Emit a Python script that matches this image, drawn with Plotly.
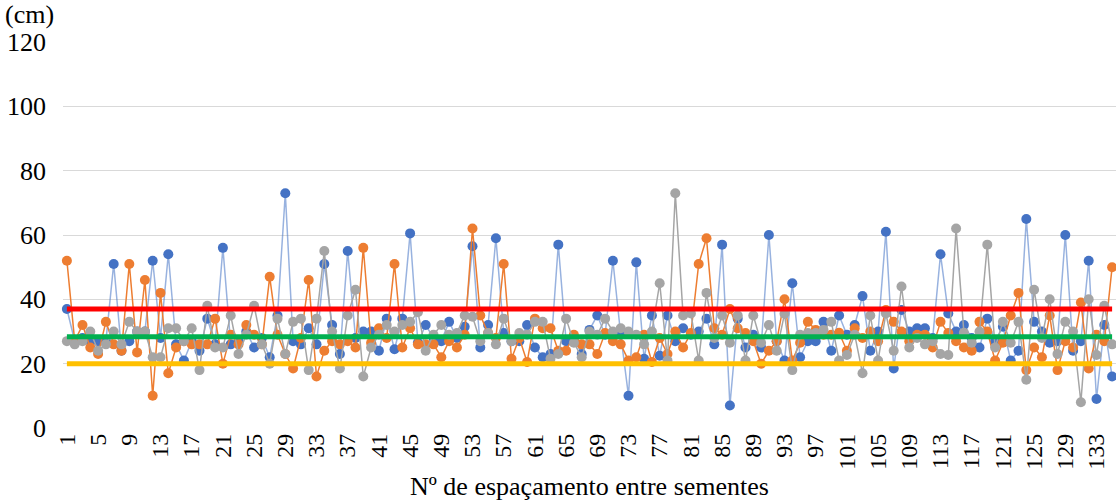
import plotly.graph_objects as go

# spacing index (1..135)
spacing = list(range(1, 136))

blue = [37, 27, 28, 27, 27, 27, 51, 24, 27, 30, 30, 52, 28, 54, 26, 21, 27, 24, 34, 26,
        56, 26, 27, 30, 25, 28, 22, 35, 73, 27, 26, 31, 26, 51, 32, 23, 55, 28, 30, 30,
        24, 34, 24.5, 34, 60.5, 26.5, 32, 28, 27, 33, 28, 31.5, 56.5, 25, 32, 59, 29.5, 27, 27, 32,
        25, 22, 23, 57, 27, 28, 23, 30.5, 35, 29, 52, 29, 10, 51.5, 21.5, 35, 22.5, 35, 27, 31,
        29, 30, 34, 26, 57, 7, 34, 25, 29, 25, 60, 27, 21, 45, 22, 27, 27, 33, 24, 35,
        29, 32, 41, 24, 30, 61, 18.5, 36.7, 30, 31, 31, 28, 54, 35.6, 30, 32, 28, 25, 34, 27,
        31.5, 21, 24, 65, 33, 30, 26.5, 27, 60, 24, 27, 52, 9, 32, 16]

orange = [52, 27, 32, 25, 23, 33, 26, 24, 51, 23.5, 46, 10, 42, 17, 25, 27, 26, 26, 26, 34,
          20, 29, 26, 32, 29, 26, 47, 29, 23, 18.5, 28, 46, 16, 24, 27, 26, 27, 25, 56, 26.5,
          31, 28, 51, 25, 31, 26, 26, 26, 22, 27, 25, 29, 62, 35, 29.5, 28, 51, 21.5, 28, 20.5,
          34, 31, 31, 24, 24, 29, 26, 26, 23, 29.5, 27, 26, 21, 22, 29, 20.5, 28, 23, 30, 25,
          29.5, 51, 59, 31, 29, 37, 31, 29.5, 27, 20, 24, 27, 40, 21, 26.5, 33, 30.5, 29, 29, 29.6,
          24, 31, 28, 30, 27, 36.7, 33, 30, 27, 29, 29, 25, 33, 29.5, 27, 25, 24, 33, 30, 21,
          26.5, 35, 42, 18, 25, 22, 35, 18, 27, 25, 39, 18.5, 29, 27, 50]

gray = [27, 26, 27, 30, 24, 26, 30, 26, 33, 30, 30, 22, 22, 31, 31, 27, 31, 18, 38, 25,
        25, 35, 23, 29, 38, 26, 20, 34, 23, 33, 34, 18, 34, 55, 30, 18.5, 35, 43, 16, 25,
        29, 32, 30, 32, 33, 36, 24, 29, 32, 29, 29.5, 35, 34.6, 27, 29.5, 26, 34, 27, 29.5, 29,
        33, 33, 21.5, 23, 34, 26.5, 22, 30, 29, 34, 30, 31, 30, 29, 26, 30, 45, 21, 73, 35,
        35.6, 21, 42, 28, 35, 26.5, 35, 21, 35, 26.5, 32, 24, 35.5, 18, 29, 29.5, 29.5, 30.5, 33, 21,
        22.7, 29, 17, 35, 21, 35.6, 24, 44, 25, 28, 26, 27, 23, 22.7, 62, 29.6, 26.5, 30, 57, 25,
        33, 26.5, 33, 15, 43, 28, 40, 23, 33, 30, 8, 40, 22.7, 38, 26]

# reference levels
upper_limit = 37
mean_level = 28.4
lower_limit = 20

x_ticks = list(range(1, 136, 4))
y_ticks = [0, 20, 40, 60, 80, 100, 120]

FONT = "Liberation Serif, Times New Roman, serif"

fig = go.Figure()

series = [
    (blue, "#4472C4", "rgba(68,114,196,0.55)"),
    (orange, "#ED7D31", "#ED7D31"),
    (gray, "#A5A5A5", "#A5A5A5"),
]
for vals, mcol, lcol in series:
    fig.add_trace(go.Scatter(
        x=spacing, y=vals, mode="lines+markers",
        line=dict(color=lcol, width=1.5),
        marker=dict(color=mcol, size=10),
        showlegend=False, hoverinfo="skip", cliponaxis=False))

for level, col in [(upper_limit, "#FF0000"), (mean_level, "#00B050"), (lower_limit, "#FFC000")]:
    fig.add_trace(go.Scatter(
        x=[spacing[0], spacing[-1]], y=[level, level], mode="lines",
        line=dict(color=col, width=5), showlegend=False, hoverinfo="skip"))

fig.update_layout(
    width=1116, height=501,
    margin=dict(l=63, r=0, t=42, b=73, autoexpand=False),
    paper_bgcolor="white", plot_bgcolor="white",
    font=dict(family=FONT, size=26, color="black"),
    xaxis=dict(
        range=[0.5, 135.5], tickmode="array", tickvals=x_ticks,
        ticktext=[str(t) for t in x_ticks], tickangle=-90,
        showgrid=False, zeroline=False, showline=False, ticks="",
        tickfont=dict(family=FONT, size=24),
        title=dict(text="Nº de espaçamento entre sementes", standoff=8,
                   font=dict(family=FONT, size=26)),
    ),
    yaxis=dict(
        range=[0, 120], tickmode="array", tickvals=y_ticks,
        showgrid=True, gridcolor="#D9D9D9", gridwidth=1.3,
        zeroline=False, showline=False, ticks="", ticklabelstandoff=16,
        tickfont=dict(family=FONT, size=26),
    ),
    annotations=[dict(
        text="(cm)", xref="paper", yref="paper", x=-60/1053, y=1,
        xanchor="left", yanchor="bottom", yshift=11, showarrow=False,
        font=dict(family=FONT, size=26, color="black"))],
)

fig.write_html("out.html", config={"displayModeBar": False},
               post_script="document.body.style.margin='0';")
